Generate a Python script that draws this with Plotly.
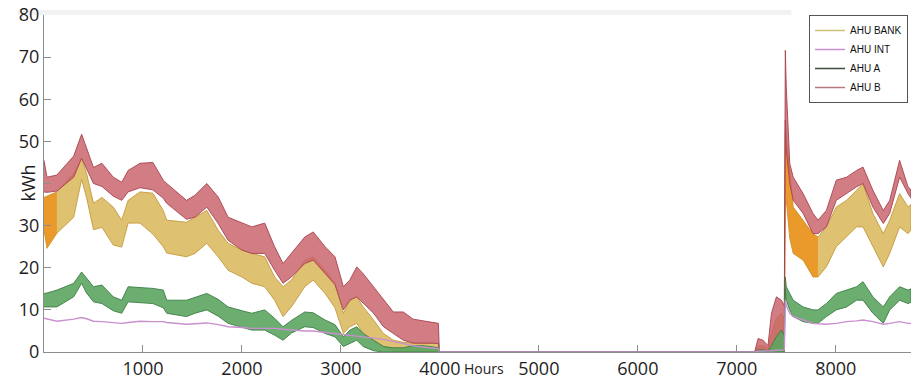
import plotly.graph_objects as go

# Hourly AHU energy over one year, summarised as daily-swing envelopes
# (upper / lower bound of each series) at checkpoint hours.
HOURS = [0, 30, 130, 300, 380, 430, 500, 585, 700, 785, 850, 970, 1100, 1205, 1240,
         1440, 1525, 1645, 1760, 1860, 2000, 2100, 2230, 2330, 2415, 2500, 2635, 2720,
         2840, 2940, 3025, 3090, 3160, 3225, 3330, 3430, 3530, 3630, 3730, 3830, 3930,
         3985, 3995, 7180, 7215, 7265, 7315, 7350, 7400, 7450, 7480, 7490, 7500, 7535,
         7570, 7670, 7770, 7820, 7905, 8005, 8110, 8210, 8275, 8375, 8480, 8545, 8645,
         8730, 8760]

AHU_B_HIGH = [45.5, 41.5, 42.0, 46.5, 51.7, 48.6, 43.8, 44.8, 41.5, 40.3, 43.1, 44.8, 45.0,
              40.8, 40.0, 36.0, 37.2, 40.0, 36.8, 32.0, 30.6, 29.7, 30.6, 25.0, 21.0, 23.4,
              27.3, 28.5, 25.0, 22.6, 15.5, 17.1, 20.2, 18.6, 15.5, 12.3, 9.5, 9.5, 7.8,
              7.4, 7.0, 6.8, 0.0, 0.0, 3.2, 2.8, 1.5, 9.2, 13.1, 12.3, 11.0, 71.6, 62.9,
              44.7, 41.5, 37.6, 32.9, 31.3, 33.6, 40.8, 41.5, 43.1, 43.9, 38.4, 33.6, 36.0,
              45.5, 39.2, 38.5]
AHU_B_LOW = [38.0, 37.9, 38.2, 41.5, 46.0, 43.5, 40.0, 39.3, 37.0, 36.0, 38.0, 39.0, 38.5,
             36.5, 35.3, 31.5, 32.0, 34.4, 30.5, 26.5, 24.2, 23.4, 23.4, 19.4, 16.3, 17.8,
             21.0, 21.8, 18.6, 16.0, 10.0, 12.3, 13.1, 11.5, 9.2, 6.0, 4.4, 2.8, 2.1,
             2.1, 2.1, 2.0, 0.0, 0.0, 0.0, 0.0, 0.0, 0.5, 1.0, 1.0, 0.5, 55.0, 48.0,
             40.0, 36.0, 32.9, 28.1, 28.1, 29.7, 36.0, 37.6, 39.2, 40.0, 34.4, 30.5, 32.9,
             41.5, 37.6, 36.5]

AHU_BANK_HIGH = [36.7, 37.0, 38.0, 42.4, 46.0, 42.4, 35.3, 36.7, 34.4, 31.3, 36.0, 38.0, 37.7,
                 33.6, 31.3, 30.8, 32.0, 33.6, 28.9, 25.8, 24.2, 23.4, 22.6, 17.8, 15.5, 17.1,
                 21.8, 22.6, 19.4, 16.3, 9.2, 12.3, 13.1, 10.7, 7.6, 4.4, 2.8, 2.3, 2.1,
                 2.1, 2.1, 2.0, 0.0, 0.0, 1.5, 1.5, 0.8, 4.4, 8.0, 9.2, 8.0, 52.6, 50.0,
                 43.1, 34.4, 31.3, 28.1, 27.3, 29.7, 34.4, 36.0, 38.4, 40.0, 32.9, 28.1, 31.3,
                 37.6, 34.4, 35.0]
AHU_BANK_LOW = [29.0, 24.6, 28.2, 32.0, 41.0, 36.7, 29.0, 29.6, 25.4, 24.9, 30.6, 30.6, 28.0,
                25.0, 23.5, 22.6, 23.4, 25.8, 22.6, 19.4, 17.8, 16.3, 15.5, 12.3, 8.4, 10.7,
                15.5, 17.1, 13.9, 10.5, 4.4, 6.0, 6.8, 4.4, 2.8, 1.3, 0.2, 0.0, 0.0,
                0.0, 0.0, 0.0, 0.0, 0.0, 0.0, 0.0, 0.0, 0.0, 0.5, 0.5, 0.0, 36.0, 36.0,
                27.0, 23.4, 21.8, 17.8, 17.8, 20.2, 25.0, 27.3, 29.7, 29.7, 25.0, 20.2, 23.4,
                29.7, 28.1, 29.0]

AHU_A_HIGH = [13.9, 14.0, 14.7, 16.3, 19.0, 17.5, 15.5, 15.9, 13.1, 12.3, 15.5, 15.3, 15.1,
              14.7, 12.3, 12.3, 13.0, 13.9, 12.5, 10.7, 9.8, 9.2, 10.0, 8.0, 6.0, 7.5,
              9.5, 9.3, 7.6, 6.5, 3.6, 5.2, 6.0, 4.4, 2.8, 1.3, 1.0, 1.0, 1.5,
              1.5, 1.2, 1.0, 0.0, 0.0, 0.5, 0.5, 0.3, 1.5, 3.6, 5.2, 4.0, 17.8, 15.5,
              13.9, 12.3, 10.7, 10.0, 10.0, 11.5, 13.9, 14.7, 15.5, 16.7, 13.1, 10.7, 13.1,
              15.5, 14.7, 15.0]
AHU_A_LOW = [10.7, 10.7, 10.7, 13.1, 16.3, 14.0, 11.9, 11.5, 9.8, 9.2, 11.9, 11.7, 11.5,
             10.5, 9.2, 8.4, 9.2, 10.0, 8.5, 6.8, 5.8, 5.2, 5.2, 4.0, 2.8, 4.5,
             6.0, 5.8, 4.4, 3.6, 1.3, 2.1, 2.8, 1.3, 0.3, 0.0, 0.0, 0.0, 0.0,
             0.0, 0.0, 0.0, 0.0, 0.0, 0.0, 0.0, 0.0, 0.0, 0.0, 0.0, 0.0, 15.0, 12.3,
             10.0, 8.4, 7.2, 6.8, 6.8, 8.4, 10.0, 10.7, 12.3, 12.3, 9.2, 6.8, 10.0,
             12.3, 11.5, 11.8]

AHU_INT = [8.0, 7.8, 7.3, 7.8, 8.2, 7.9, 7.3, 7.2, 6.9, 6.8, 7.0, 7.3, 7.2, 7.2, 7.0,
           6.6, 6.7, 6.9, 6.5, 6.0, 5.8, 5.6, 5.6, 5.6, 5.4, 5.2, 5.0, 5.0, 4.7, 4.4,
           4.2, 4.0, 3.8, 3.6, 3.3, 3.0, 2.5, 2.0, 1.5, 1.2, 1.0, 0.8, 0.0, 0.0, 0.2,
           0.2, 0.2, 0.3, 0.4, 0.5, 0.5, 12.3, 11.0, 9.2, 8.4, 7.6, 6.8, 6.7, 6.6, 6.8,
           7.2, 7.4, 7.6, 7.2, 6.6, 6.8, 7.2, 6.8, 6.8]

SERIES_NAMES = ["AHU BANK", "AHU INT", "AHU A", "AHU B"]
LEGEND_COLORS = ["#cdc27a", "#c98fd3", "#3f4d40", "#b57a7c"]
X_TICKS = [1000, 2000, 3000, 4000, 5000, 6000, 7000, 8000]
Y_TICKS = [0, 10, 20, 30, 40, 50, 60, 70, 80]
# the 40 label gives way to the axis title
Y_TICK_TEXT = ["0", "10", "20", "30", "", "50", "60", "70", "80"]

# spans of the bank series drawn in the deeper orange tone
BANK_DENSE_SPANS = [(0, 130), (7490, 7820)]


def band(hours, high, low, fill, edge, width=0.9):
    xs = list(hours) + list(hours)[::-1]
    ys = list(high) + list(low)[::-1]
    return go.Scatter(x=xs, y=ys, mode="lines", fill="toself", fillcolor=fill,
                      line=dict(color=edge, width=width), showlegend=False,
                      hoverinfo="skip")


def subset(lo_h, hi_h, *cols):
    idx = [i for i, h in enumerate(HOURS) if lo_h <= h <= hi_h]
    return [[c[i] for i in idx] for c in (HOURS,) + cols]


fig = go.Figure()

fig.add_trace(band(HOURS, AHU_BANK_HIGH, AHU_BANK_LOW,
                   "rgba(218,186,98,0.9)", "#c49a3c"))
for a, b in BANK_DENSE_SPANS:
    h, hi, lo = subset(a, b, AHU_BANK_HIGH, AHU_BANK_LOW)
    fig.add_trace(band(h, hi, lo, "rgba(236,140,20,0.75)", "rgba(0,0,0,0)", width=0))

fig.add_trace(band(HOURS, AHU_B_HIGH, AHU_B_LOW,
                   "rgba(200,95,105,0.82)", "#a8434f"))
fig.add_trace(band(HOURS, AHU_A_HIGH, AHU_A_LOW,
                   "rgba(92,165,96,0.9)", "#3b7d44"))
fig.add_trace(go.Scatter(x=HOURS, y=AHU_INT, mode="lines",
                         line=dict(color="#c990cf", width=1.4),
                         showlegend=False, hoverinfo="skip"))

for name, color in zip(SERIES_NAMES, LEGEND_COLORS):
    fig.add_trace(go.Scatter(x=[None], y=[None], mode="lines", name=name,
                             line=dict(color=color, width=1.5)))

axis_style = dict(showline=True, linecolor="#8d8d8d", linewidth=1, ticks="inside",
                  ticklen=7, tickcolor="#8d8d8d", showgrid=False, zeroline=False,
                  automargin=False,
                  tickfont=dict(family="Open Sans, DejaVu Sans", size=18, color="#1e1e1e"))

fig.update_layout(
    width=915, height=379,
    margin=dict(l=44, r=4, t=15, b=27),
    paper_bgcolor="white", plot_bgcolor="white",
    xaxis=dict(range=[0, 8760], tickvals=X_TICKS, **axis_style),
    yaxis=dict(range=[0, 80], tickvals=Y_TICKS, ticktext=Y_TICK_TEXT, **axis_style),
    legend=dict(x=0.8824, y=1.0, xanchor="left", yanchor="top",
                bgcolor="white", bordercolor="#555555", borderwidth=1,
                font=dict(family="Liberation Sans Narrow, Liberation Sans, Arial",
                          size=10, color="#111111"),
                tracegroupgap=0, itemwidth=30),
    shapes=[dict(type="rect", xref="paper", yref="paper", x0=-0.03, x1=0.862,
                 y0=1.0, y1=1.015, fillcolor="#f2f2f2", line=dict(width=0),
                 layer="below")],
    annotations=[
        dict(text="Hours", xref="paper", yref="paper", x=0.508, y=-0.05,
             xanchor="center", yanchor="middle", showarrow=False,
             font=dict(family="Open Sans, DejaVu Sans", size=14, color="#1e1e1e")),
        dict(text="kWh", xref="paper", yref="paper", x=-0.0196, y=0.50,
             xanchor="center", yanchor="middle", textangle=-90, showarrow=False,
             font=dict(family="Open Sans, DejaVu Sans", size=18, color="#1e1e1e")),
    ],
)

fig.write_html("out.html")
